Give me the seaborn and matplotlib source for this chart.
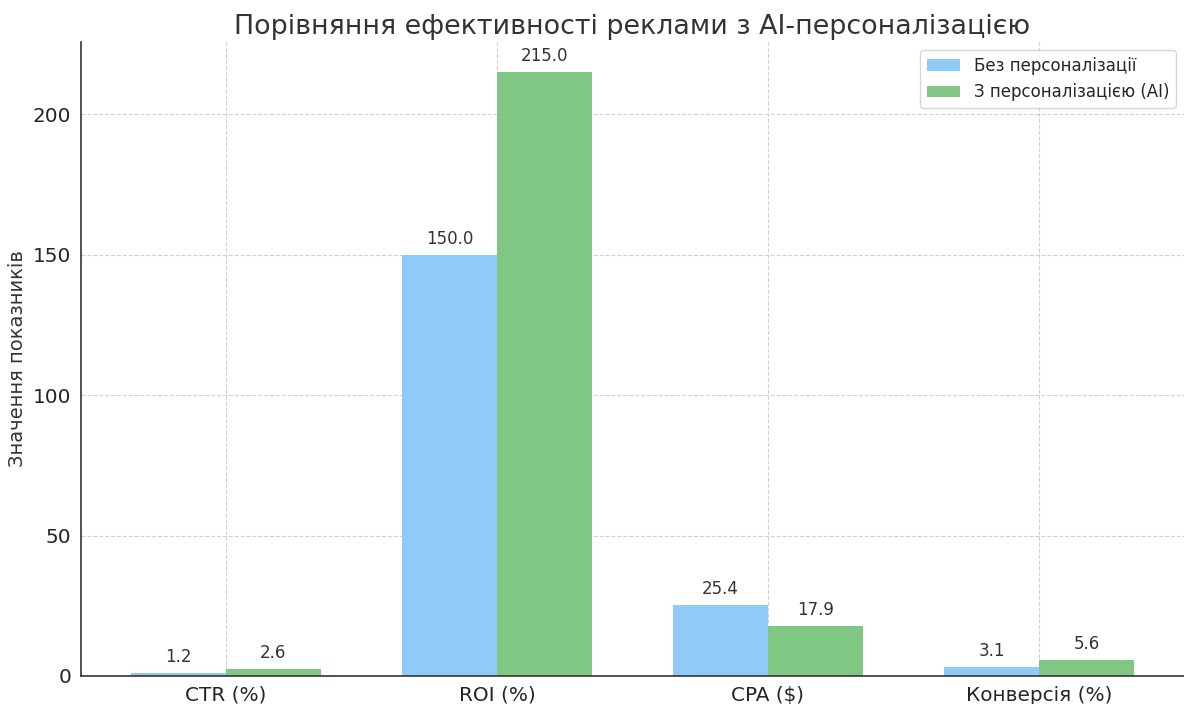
import pandas as pd
import numpy as np
import matplotlib.pyplot as plt
import seaborn as sns

# metrics and values
metrics = ['CTR (%)', 'ROI (%)', 'CPA ($)', 'Конверсія (%)']
without_ai = [1.2, 150.0, 25.4, 3.1]
with_ai = [2.6, 215.0, 17.9, 5.6]
groups = ['Без персоналізації', 'З персоналізацією (AI)']
colors = ['#90CAF9', '#81C784']

df = pd.DataFrame({
    'metric': metrics * 2,
    'value': without_ai + with_ai,
    'group': [groups[0]] * len(metrics) + [groups[1]] * len(metrics),
})

sns.set_style('white')
plt.rcParams['font.family'] = ['DejaVu Sans']

fig, ax = plt.subplots(figsize=(11.84, 7.04), dpi=100)
fig.subplots_adjust(left=0.0684, right=1.0, top=0.9403, bottom=0.0398)
sns.barplot(data=df, x='metric', y='value', hue='group', palette=colors,
            width=0.7, saturation=1, linewidth=0, ax=ax)

for cont in ax.containers:
    ax.bar_label(cont, fmt='%.1f', padding=5, fontsize=12, color='#333333')

ax.set_xlim(-0.535, 3.535)
ax.set_ylim(0, 225.75)
ax.set_yticks([0, 50, 100, 150, 200])
ax.grid(True, linestyle='--', color='#cccccc', linewidth=0.8, alpha=0.9)
ax.set_axisbelow(True)
sns.despine(ax=ax)
for s in ['left', 'bottom']:
    ax.spines[s].set_color('#333333')
    ax.spines[s].set_linewidth(1.2)

ax.tick_params(axis='both', labelsize=14.4, length=4, pad=3, color='#333333')
ax.set_xlabel('')
ax.set_ylabel('Значення показників', fontsize=14, color='#333333')
ax.set_title('Порівняння ефективності реклами з AI-персоналізацією',
             fontsize=19.4, color='#333333')
ax.legend(title=None, loc='upper right', fontsize=12)

plt.savefig('out.png', dpi=100)
